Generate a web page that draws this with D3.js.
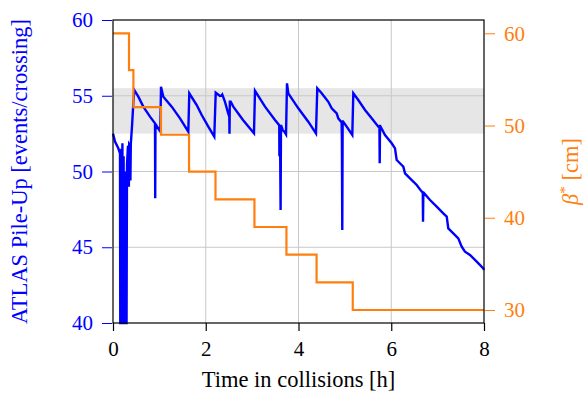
<!DOCTYPE html>
<html>
<head>
<meta charset="utf-8">
<script src="https://cdn.jsdelivr.net/npm/d3@7/dist/d3.min.js"></script>
<style>
  html, body { margin: 0; padding: 0; background: #fff; }
  svg { display: block; }
</style>
</head>
<body>
<svg id="chart" width="584" height="393"></svg>
<script>
// ---- data ----
const xTicks = [0, 2, 4, 6, 8];
const leftTicks = [40, 45, 50, 55, 60];
const rightTicks = [30, 40, 50, 60];
const bandRange = [52.5, 55.5];

// beta* step schedule: value holds from betaTime[i] to betaTime[i+1]
const betaTime  = [0, 0.345, 0.44, 1.035, 1.64, 2.21, 3.05, 3.74, 4.39, 5.17, 8.0];
const betaValue = [60, 56, 52, 49, 45, 42, 39, 36, 33, 30, 30];

// ATLAS pile-up vs time
const pileTime = [
  0, 0.043, 0.114, 0.151, 0.157, 0.170, 0.180, 0.186, 0.196, 0.203, 0.210, 0.222, 0.229,
  0.236, 0.245, 0.249, 0.259, 0.263, 0.272, 0.277, 0.283, 0.292,
  0.302, 0.323, 0.335, 0.342, 0.349, 0.370, 0.375, 0.384, 0.410, 0.438, 0.459,
  0.546, 0.653, 0.798, 0.906, 0.910, 0.916, 0.921, 0.998, 1.020,
  1.035, 1.085, 1.266, 1.445, 1.624,
  1.645, 1.805, 1.913, 2.055, 2.184,
  2.215, 2.307, 2.340, 2.357, 2.415, 2.473, 2.508, 2.512, 2.519, 2.538, 2.594, 2.803, 3.040,
  3.062, 3.278, 3.493, 3.585, 3.588, 3.594, 3.601, 3.614, 3.622, 3.629, 3.659, 3.694, 3.731,
  3.752, 3.780, 3.996, 4.211, 4.377,
  4.405, 4.500, 4.643, 4.716, 4.824, 4.858, 4.916, 4.930, 4.936, 4.944, 4.952, 4.960, 5.039, 5.160,
  5.182, 5.289, 5.434, 5.578, 5.721, 5.745, 5.751, 5.758, 5.762, 5.865,
  6.010, 6.081, 6.117, 6.225, 6.260, 6.297, 6.404, 6.549, 6.657, 6.680, 6.685, 6.692, 6.700,
  6.836, 6.980, 7.122, 7.196, 7.230, 7.338, 7.446, 7.519, 7.590, 7.698, 7.843, 7.985, 8.0
];
const pileUp = [
  52.5, 51.97, 51.53, 51.2, 40, 40, 51.5, 40, 40, 51.86, 40, 40, 51.0,
  40, 40, 47.0, 47.0, 40, 40, 50.0, 40, 40,
  50.5, 51.7, 51.6, 49.0, 51.8, 51.7, 49.4, 51.8, 53.0, 54.5, 55.38,
  54.94, 54.28, 53.62, 53.18, 48.23, 53.12, 53.1, 52.74, 52.65,
  55.6, 54.94, 54.28, 53.51, 52.63,
  55.16, 54.39, 53.73, 52.96, 52.3,
  55.2, 54.98, 55.0, 55.08, 54.6, 53.95, 53.6, 52.5, 54.6, 54.6, 54.28, 53.4, 52.52,
  55.33, 54.28, 53.4, 53.05, 51.0, 53.03, 52.96, 47.46, 53.0, 53.0, 52.74, 52.63, 52.45,
  55.82, 55.16, 54.17, 53.29, 52.52,
  55.49, 55.16, 54.6, 54.17, 53.84, 53.51, 53.29, 53.25, 52.0, 46.14, 53.3, 53.3, 52.96, 52.41,
  55.16, 54.72, 54.06, 53.51, 52.96, 52.9, 50.54, 53.0, 53.0, 52.41,
  51.86, 51.53, 50.76, 50.43, 50.32, 49.88, 49.55, 49.11, 48.67, 48.63, 46.69, 48.6, 48.6,
  48.12, 47.68, 47.24, 47.02, 46.25, 45.92, 45.59, 45.04, 44.71, 44.49, 44.05, 43.61, 43.5
];

// ---- chart ----
const BLUE = "#0000ff", ORANGE = "#ff7f0e", GRID = "#c8c8c8";
const FONT = "Liberation Serif";
const svg = d3.select("#chart");
const L = 113, R = 484, T = 20, B = 323;
const x = d3.scaleLinear().domain([0, 8]).range([L, R]);
const yL = d3.scaleLinear().domain([40, 60]).range([B, T]);
const yR = d3.scaleLinear().domain([28.59, 61.44]).range([B, T]);

// band
svg.append("rect")
  .attr("x", L).attr("width", R - L)
  .attr("y", yL(bandRange[1])).attr("height", yL(bandRange[0]) - yL(bandRange[1]))
  .attr("fill", "#e6e6e6");

// grid
const grid = svg.append("g").attr("stroke", GRID).attr("stroke-width", 1);
xTicks.filter(d => d > 0 && d < 8).forEach(d => {
  grid.append("line").attr("x1", x(d)).attr("x2", x(d)).attr("y1", T).attr("y2", B);
});
leftTicks.filter(d => d > 40 && d < 60).forEach(d => {
  grid.append("line").attr("x1", L).attr("x2", R).attr("y1", yL(d)).attr("y2", yL(d));
});

// pile-up line
const pileData = pileTime.map((t, i) => [t, pileUp[i]]);
svg.append("path")
  .datum(pileData)
  .attr("fill", "none").attr("stroke", BLUE).attr("stroke-width", 2.4)
  .attr("stroke-linejoin", "miter")
  .attr("d", d3.line().x(d => x(d[0])).y(d => yL(d[1])));

// beta* step line
const betaData = betaTime.map((t, i) => [t, betaValue[i]]);
svg.append("path")
  .datum(betaData)
  .attr("fill", "none").attr("stroke", ORANGE).attr("stroke-width", 2.2)
  .attr("d", d3.line().curve(d3.curveStepAfter).x(d => x(d[0])).y(d => yR(d[1])));

// frame
svg.append("rect")
  .attr("x", L).attr("y", T).attr("width", R - L).attr("height", B - T)
  .attr("fill", "none").attr("stroke", "#000").attr("stroke-width", 1.2);

const FS = 21;
function styleAxis(g, color) {
  g.attr("font-family", FONT).attr("font-size", FS);
  g.select(".domain").remove();
  g.selectAll("line").attr("stroke", color).attr("stroke-width", 1);
  g.selectAll("text").attr("fill", color).attr("font-family", FONT).attr("font-size", FS);
}
// left axis
const ax1 = svg.append("g").attr("transform", `translate(${L - 1},0)`)
  .call(d3.axisLeft(yL).tickValues(leftTicks).tickSize(10).tickPadding(9));
styleAxis(ax1, BLUE);

// right axis
const ax2 = svg.append("g").attr("transform", `translate(${R + 1},0)`)
  .call(d3.axisRight(yR).tickValues(rightTicks).tickSize(10).tickPadding(9));
styleAxis(ax2, ORANGE);

// bottom axis
const ax3 = svg.append("g").attr("transform", `translate(0,${B})`)
  .call(d3.axisBottom(x).tickValues(xTicks).tickSize(8).tickPadding(10));
styleAxis(ax3, "#000");
ax3.selectAll("line").attr("stroke-width", 1.2);

// titles
svg.append("text")
  .attr("transform", `translate(27,${(T + B) / 2}) rotate(-90)`)
  .attr("text-anchor", "middle").attr("fill", BLUE)
  .attr("font-family", FONT).attr("font-size", 22.5)
  .text("ATLAS Pile-Up [events/crossing]");

svg.append("text")
  .attr("x", (L + R) / 2).attr("y", 387)
  .attr("text-anchor", "middle").attr("fill", "#000")
  .attr("font-family", FONT).attr("font-size", 22.5)
  .text("Time in collisions [h]");

const rt = svg.append("text")
  .attr("transform", `translate(578,${(T + B) / 2}) rotate(-90)`)
  .attr("text-anchor", "middle").attr("fill", ORANGE)
  .attr("font-family", FONT).attr("font-size", 22.5);
rt.append("tspan").attr("font-style", "italic").text("β");
rt.append("tspan").attr("dy", -8).attr("font-size", 15).text("*");
rt.append("tspan").attr("dy", 8).text(" [cm]");
</script>
</body>
</html>
